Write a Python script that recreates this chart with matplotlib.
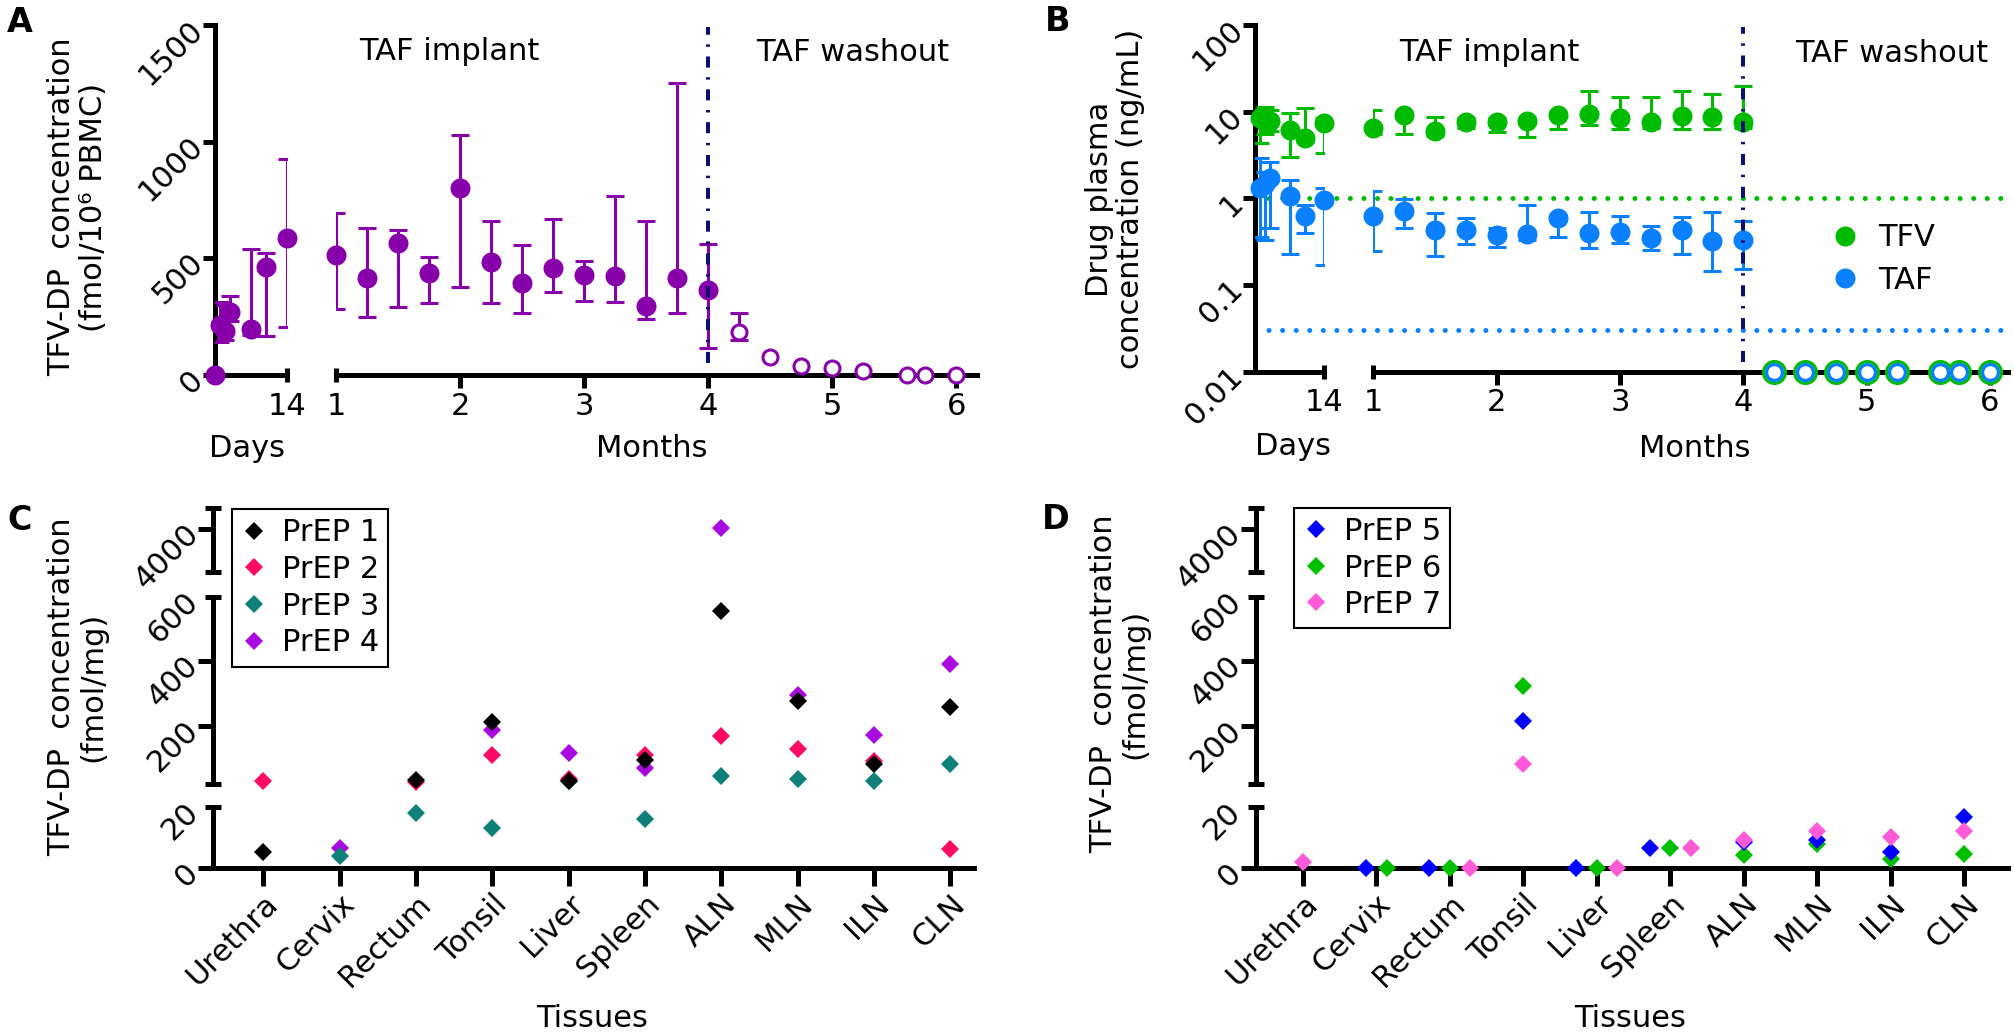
import numpy as np
import matplotlib
matplotlib.use("Agg")
import matplotlib.pyplot as plt
from matplotlib.lines import Line2D
from matplotlib.ticker import NullLocator

plt.rcParams['font.family'] = ['DejaVu Sans']
plt.rcParams['font.size'] = 22

# ---------------- data ----------------
# Panel A : TFV-DP in PBMC
a_day = [0, 1, 2, 3, 7, 10, 14]
a_day_val = [0, 214, 189, 271, 197, 464, 588]
a_day_lo = [0, 140, 150, 230, 170, 167, 207]
a_day_hi = [0, 314, 300, 339, 539, 521, 926]
a_mon = [1, 1.25, 1.5, 1.75, 2, 2.25, 2.5, 2.75, 3, 3.25, 3.5, 3.75, 4]
a_mon_val = [514, 414, 564, 436, 800, 486, 396, 460, 429, 424, 296, 417, 364]
a_mon_lo = [282, 250, 290, 307, 376, 307, 264, 354, 318, 311, 239, 264, 114]
a_mon_hi = [693, 631, 621, 507, 1029, 661, 557, 669, 490, 768, 660, 1253, 561]
wash_mon = [4.25, 4.5, 4.75, 5.0, 5.25, 5.6, 5.75, 6.0]
a_wash_val = [183, 79, 40, 31, 18, 0, 0, 2]
a_wash_lo = [150, 79, 40, 31, 18, 0, 0, 2]
a_wash_hi = [264, 79, 40, 31, 18, 0, 0, 2]

# Panel B : plasma TFV / TAF
b_day = [1, 2, 3, 7, 10, 14]
tfv_day_val = [8.4, 7.7, 7.8, 6.1, 5.0, 7.4]
tfv_day_lo = [4.3, 5.5, 6.0, 3.0, 4.5, 3.3]
tfv_day_hi = [10.5, 11.4, 10.5, 9.7, 11.1, 8.5]
taf_day_val = [1.30, 1.45, 1.70, 1.06, 0.625, 0.955]
taf_day_lo = [0.355, 0.33, 0.45, 0.226, 0.40, 0.17]
taf_day_hi = [2.9, 2.0, 2.6, 1.63, 0.837, 1.30]
b_mon = [1, 1.25, 1.5, 1.75, 2, 2.25, 2.5, 2.75, 3, 3.25, 3.5, 3.75, 4]
tfv_mon_val = [6.5, 9.1, 6.0, 7.65, 7.65, 7.9, 9.1, 9.5, 8.4, 7.65, 8.9, 8.75, 7.65]
tfv_mon_lo = [5.5, 5.5, 5.2, 6.5, 5.86, 5.05, 6.24, 7.0, 6.24, 6.5, 6.24, 6.24, 6.5]
tfv_mon_hi = [10.4, 10.0, 8.75, 8.5, 8.5, 8.5, 10.0, 17.4, 14.9, 14.6, 17.3, 16.2, 19.7]
taf_mon_val = [0.625, 0.714, 0.437, 0.43, 0.377, 0.388, 0.587, 0.395, 0.412, 0.351, 0.43, 0.322, 0.33]
taf_mon_lo = [0.247, 0.458, 0.218, 0.295, 0.277, 0.33, 0.361, 0.265, 0.308, 0.254, 0.226, 0.145, 0.152]
taf_mon_hi = [1.22, 0.974, 0.67, 0.587, 0.45, 0.837, 0.65, 0.69, 0.625, 0.483, 0.613, 0.69, 0.547]
b_wash_val = [0.01, 0.01, 0.01, 0.01, 0.01, 0.01, 0.01, 0.01]
tfv_lloq = 1.0
taf_lloq = 0.03

# Panels C / D : tissue TFV-DP
tissues = ['Urethra', 'Cervix', 'Rectum', 'Tonsil', 'Liver', 'Spleen', 'ALN', 'MLN', 'ILN', 'CLN']
nan = np.nan
prep1 = [5.4, nan, 32, 212, 29, 94, 555, 276, 83, 257]
prep2 = [29, nan, 27, 110, 35, 111, 168, 128, 91, 6.3]
prep3 = [nan, 4.1, 18, 13.3, 29, 16.3, 45, 34, 30, 81]
prep4 = [nan, 6.8, nan, 188, 117, 68, 4019, 295, 171, 393]
prep5 = [nan, 0, 0, 216, 0, 6.5, 8.5, 9.3, 5.5, 16.9]
prep6 = [nan, 0, 0, 325, 0, 6.5, 4.3, 8.1, 3.1, 4.6]
prep7 = [2.2, nan, 0, 83, 0, 6.5, 9.3, 12.3, 10.3, 12.1]

# ---------------- style ----------------
PURPLE = '#8800aa'
GREEN = '#00bb00'
BLUE = '#0a80ff'
NAVY = '#0a1172'
C_COLS = ['#000000', '#ff0a64', '#0f7f7a', '#a80ae0']
D_COLS = ['#0000ff', '#00c000', '#ff5ad8']

W, H, DPI = 2015, 1034, 100
fig = plt.figure(figsize=(W / DPI, H / DPI), dpi=DPI)
fig.patch.set_facecolor('white')

LW = 3.6
FS = 22


def add_ax(l, t, r, b):
    return fig.add_axes([l / W, 1 - b / H, (r - l) / W, (b - t) / H])


def fx(x):
    return x / W


def fy(y):
    return 1 - y / H


def base(ax, left=True, bottom=True, tl=9.0, xtl=None):
    ax.patch.set_visible(False)
    for s in ('top', 'right'):
        ax.spines[s].set_visible(False)
    ax.spines['left'].set_visible(left)
    ax.spines['bottom'].set_visible(bottom)
    for s in ('left', 'bottom'):
        ax.spines[s].set_linewidth(LW)
    ax.tick_params(which='major', direction='out', length=tl, width=LW, pad=3, labelsize=FS)
    ax.tick_params(which='minor', direction='inout', length=tl * 1.1, width=LW,
                   pad=3 + tl - tl * 1.1 / 2, labelsize=FS)
    if xtl is not None:
        ax.tick_params(axis='x', which='major', length=xtl, pad=2)
    if not left:
        ax.tick_params(axis='y', which='both', left=False, labelleft=False)
    if not bottom:
        ax.tick_params(axis='x', which='both', bottom=False, labelbottom=False)


ROT = dict(rotation=45, ha='right', va='center', rotation_mode='anchor')


def eb(ax, x, v, lo, hi, color, ms, open_=False):
    x = np.asarray(x, float)
    v = np.asarray(v, float)
    lo = np.asarray(lo, float)
    hi = np.asarray(hi, float)
    m = (hi - lo) > 0
    if m.any():
        ax.errorbar(x[m], v[m], yerr=[v[m] - lo[m], hi[m] - v[m]], fmt='none', ecolor=color,
                    elinewidth=2.2, capsize=6.2, capthick=2.2, zorder=3)
    if open_:
        ax.plot(x, v, 'o', ms=ms, mfc='white', mec=color, mew=2.2, ls='none', zorder=4, clip_on=False)
    else:
        ax.plot(x, v, 'o', ms=ms, color=color, mew=0, ls='none', zorder=4, clip_on=False)


# ================= Panel A =================
A_TOP, A_BOT = 25, 375
axAd = add_ax(215, A_TOP, 287, A_BOT)
axAm = add_ax(336, A_TOP, 977, A_BOT)
base(axAd)
base(axAm, left=False)
for ax in (axAd, axAm):
    ax.set_ylim(0, 1500)
axAd.set_xlim(0, 14)
axAm.set_xlim(1, 6.167)
axAd.set_yticks([0, 500, 1000, 1500], ['0', '500', '1000', '1500'], **ROT)
axAd.set_xticks([])
axAd.set_xticks([14], ['14'], minor=True)
axAm.set_xticks([2, 3, 4, 5, 6], ['2', '3', '4', '5', '6'])
axAm.set_xticks([1], ['1'], minor=True)

eb(axAd, a_day, a_day_val, a_day_lo, a_day_hi, PURPLE, 14.4)
eb(axAm, a_mon, a_mon_val, a_mon_lo, a_mon_hi, PURPLE, 14.4)
eb(axAm, wash_mon, a_wash_val, a_wash_lo, a_wash_hi, PURPLE, 10.8, open_=True)
axAm.axvline(4, ymin=0.035, ymax=0.995, color=NAVY, lw=2.9, dashes=(2.75, 2.4, 0.6, 2.4), zorder=6)

fig.text(fx(449.5), fy(60), 'TAF implant', ha='center', va='baseline', fontsize=FS)
fig.text(fx(853), fy(61), 'TAF washout', ha='center', va='baseline', fontsize=FS)
fig.text(fx(246.7), fy(457), 'Days', ha='center', va='baseline', fontsize=FS)
fig.text(fx(651.7), fy(457), 'Months', ha='center', va='baseline', fontsize=FS)
fig.text(fx(77.5), fy(207), 'TFV-DP  concentration\n(fmol/10\u2076 PBMC)', rotation=90,
         ha='center', va='center', multialignment='center', fontsize=FS, linespacing=1.1)
fig.text(fx(20), fy(22), 'A', ha='center', va='center', fontsize=24, fontweight='bold')

# ================= Panel B =================
B_TOP, B_BOT = 25, 371.7
axBd = add_ax(1255, B_TOP, 1324.3, B_BOT)
axBm = add_ax(1373.3, B_TOP, 2008.3, B_BOT)
base(axBd)
base(axBm, left=False)
for ax in (axBd, axBm):
    ax.set_yscale('log')
    ax.set_ylim(0.01, 100)
    ax.yaxis.set_minor_locator(NullLocator())
axBd.set_xlim(0, 14)
axBm.set_xlim(1, 6.15)
axBd.set_yticks([0.01, 0.1, 1, 10, 100], ['0.01', '0.1', '1', '10', '100'], **ROT)
axBd.yaxis.set_minor_locator(NullLocator())
axBm.yaxis.set_minor_locator(NullLocator())
axBd.set_xticks([])
axBd.set_xticks([14], ['14'], minor=True)
axBm.set_xticks([2, 3, 4, 5, 6], ['2', '3', '4', '5', '6'])
axBm.set_xticks([1], ['1'], minor=True)

# LLOQ dotted lines spanning both segments
disp = axBm.transData.transform((6.15, 1.0))
x_end = axBd.transData.inverted().transform(disp)[0]
for lvl, col in ((tfv_lloq, GREEN), (taf_lloq, BLUE)):
    axBd.plot([0, x_end], [lvl, lvl], color=col, lw=3.6, dashes=(0.01, 2.7),
              dash_capstyle='round', clip_on=False, zorder=2)

eb(axBd, b_day, tfv_day_val, tfv_day_lo, tfv_day_hi, GREEN, 14.4)
eb(axBd, b_day, taf_day_val, taf_day_lo, taf_day_hi, BLUE, 14.4)
eb(axBm, b_mon, tfv_mon_val, tfv_mon_lo, tfv_mon_hi, GREEN, 14.4)
eb(axBm, b_mon, taf_mon_val, taf_mon_lo, taf_mon_hi, BLUE, 14.4)
axBm.plot(wash_mon, b_wash_val, 'o', ms=15.8, mfc='white', mec=GREEN, mew=2.2, ls='none',
          zorder=5, clip_on=False)
axBm.plot(wash_mon, b_wash_val, 'o', ms=11.5, mfc='white', mec=BLUE, mew=2.4, ls='none',
          zorder=6, clip_on=False)
axBm.axvline(4, ymin=0.028, ymax=0.994, color=NAVY, lw=2.9, dashes=(2.75, 2.4, 0.6, 2.4), zorder=7)

handles = [Line2D([], [], ls='none', marker='o', ms=14.4, color=GREEN, mew=0),
           Line2D([], [], ls='none', marker='o', ms=14.4, color=BLUE, mew=0)]
fig.legend(handles, ['TFV', 'TAF'], loc='center left', bbox_to_anchor=(fx(1829.7), fy(259)),
           frameon=False, handlelength=1.0, handletextpad=0.6, borderpad=0, borderaxespad=0,
           labelspacing=0.43, fontsize=FS)

fig.text(fx(1489), fy(61), 'TAF implant', ha='center', va='baseline', fontsize=FS)
fig.text(fx(1892), fy(62), 'TAF washout', ha='center', va='baseline', fontsize=FS)
fig.text(fx(1293), fy(455), 'Days', ha='center', va='baseline', fontsize=FS)
fig.text(fx(1695), fy(457), 'Months', ha='center', va='baseline', fontsize=FS)
fig.text(fx(1115), fy(199), 'Drug plasma\nconcentration (ng/mL)', rotation=90,
         ha='center', va='center', multialignment='center', fontsize=FS, linespacing=1.1)
fig.text(fx(1057.5), fy(21.7), 'B', ha='center', va='center', fontsize=24, fontweight='bold')

# ================= Panels C / D =================
SEG_LIMS = [(3500, 4250), (20, 600), (0, 20)]
SEG_PX = [(508.3, 571.7), (596.7, 784.0), (807.3, 868.3)]


def dodge_offsets(series_list, step=0.28):
    n_s, n_c = len(series_list), len(series_list[0])
    off = np.zeros((n_s, n_c))
    for j in range(n_c):
        groups = {}
        for i in range(n_s):
            v = series_list[i][j]
            if np.isfinite(v):
                groups.setdefault(v, []).append(i)
        for idxs in groups.values():
            k = len(idxs)
            for r, i in enumerate(idxs):
                off[i, j] = (r - (k - 1) / 2) * step
    return off


def tissue_panel(left, right, xlim, series, colors, draw_order, dodge):
    axes = []
    for si, ((lo, hi), (pt, pb)) in enumerate(zip(SEG_LIMS, SEG_PX)):
        is_bot = si == 2
        ax = add_ax(left, pt, right, pb)
        base(ax, bottom=is_bot, tl=10.8, xtl=13)
        ax.set_ylim(lo, hi)
        ax.set_xlim(*xlim)
        axes.append(ax)
    top, mid, bot = axes
    top.set_yticks([4000], ['4000'], **ROT)
    top.set_yticks([3500, 4250], ['', ''], minor=True, **ROT)
    mid.set_yticks([200, 400], ['200', '400'], **ROT)
    mid.set_yticks([20, 600], ['', '600'], minor=True, **ROT)
    bot.set_yticks([0], ['0'], **ROT)
    bot.set_yticks([20], ['20'], minor=True, **ROT)
    for ax in (top, mid):
        ax.set_xticks([])
    bot.set_xticks(range(len(tissues)), tissues, rotation=45, ha='right', va='top',
                   rotation_mode='anchor')
    xs = np.arange(len(tissues), dtype=float)
    off = dodge_offsets(series) if dodge else np.zeros((len(series), len(tissues)))
    for i in draw_order:
        vals = np.asarray(series[i], float)
        for ax, (lo, hi) in zip(axes, SEG_LIMS):
            m = np.isfinite(vals) & (vals >= lo) & (vals < hi if hi == 20 else vals <= hi)
            if m.any():
                ax.plot(xs[m] + off[i][m], vals[m], 'D', ms=9, color=colors[i], mew=0,
                        ls='none', zorder=5, clip_on=False)
    return axes


axC = tissue_panel(213.3, 974, (-0.655, 9.31), [prep1, prep2, prep3, prep4], C_COLS,
                   [3, 2, 1, 0], dodge=False)
axD = tissue_panel(1255.7, 2008.3, (-0.64, 9.60), [prep5, prep6, prep7], D_COLS,
                   [1, 0, 2], dodge=True)


def tissue_legend(names, colors, x, y):
    hs = [Line2D([], [], ls='none', marker='D', ms=9, color=c, mew=0) for c in colors]
    leg = fig.legend(hs, names, loc='upper left', bbox_to_anchor=(fx(x), fy(y)),
                     frameon=True, fancybox=False, edgecolor='black', framealpha=1,
                     borderpad=0.3, handlelength=0.82, handletextpad=0.5, labelspacing=0.25,
                     borderaxespad=0, fontsize=FS)
    leg.get_frame().set_linewidth(1.5)


tissue_legend(['PrEP 1', 'PrEP 2', 'PrEP 3', 'PrEP 4'], C_COLS, 232.3, 509.3)
tissue_legend(['PrEP 5', 'PrEP 6', 'PrEP 7'], D_COLS, 1294.3, 507.7)

fig.text(fx(592.5), fy(1026.7), 'Tissues', ha='center', va='baseline', fontsize=FS)
fig.text(fx(1630), fy(1026.7), 'Tissues', ha='center', va='baseline', fontsize=FS)
fig.text(fx(77), fy(687), 'TFV-DP  concentration\n(fmol/mg)', rotation=90,
         ha='center', va='center', multialignment='center', fontsize=FS, linespacing=1.1)
fig.text(fx(1119), fy(684), 'TFV-DP  concentration\n(fmol/mg)', rotation=90,
         ha='center', va='center', multialignment='center', fontsize=FS, linespacing=1.1)
fig.text(fx(19.5), fy(520.8), 'C', ha='center', va='center', fontsize=24, fontweight='bold')
fig.text(fx(1056), fy(519.5), 'D', ha='center', va='center', fontsize=24, fontweight='bold')

fig.savefig('out.png', dpi=DPI)
